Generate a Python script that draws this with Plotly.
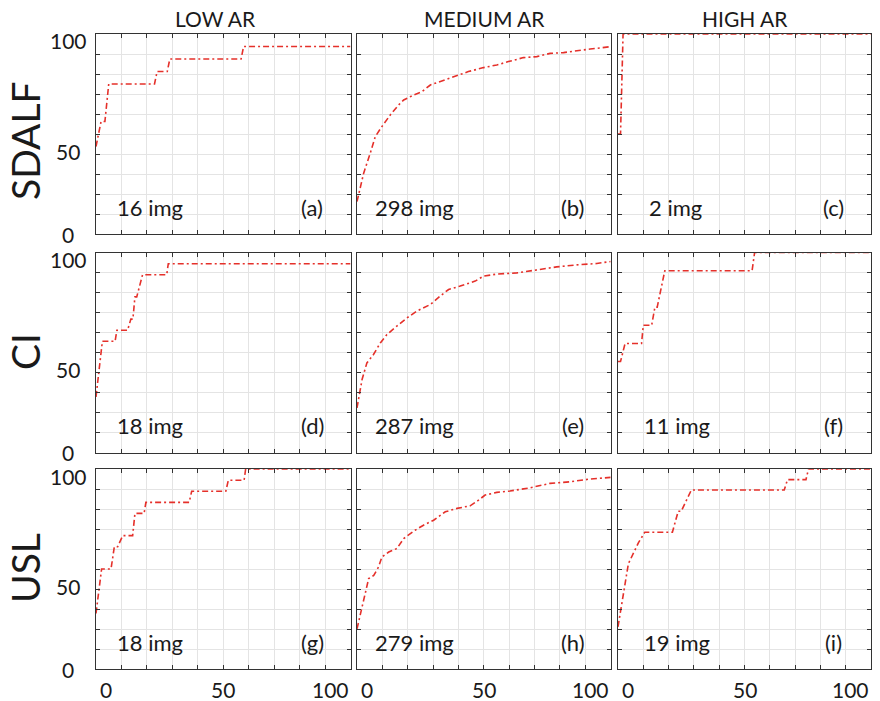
import plotly.graph_objects as go

# ---------------- data ----------------
methods = ["SDALF", "CI", "USL"]
ar_levels = ["LOW AR", "MEDIUM AR", "HIGH AR"]
img_counts = [[16, 298, 2], [18, 287, 11], [18, 279, 19]]
panel_tags = [["(a)", "(b)", "(c)"], ["(d)", "(e)", "(f)"], ["(g)", "(h)", "(i)"]]
ytick_labels = ["0", "50", "100"]
xtick_labels = ["0", "50", "100"]

# SDALF
rank_a = [0, 1, 2, 3.5, 5, 23, 24, 28, 29, 57, 58, 100]
rate_a = [43.75, 50, 56.25, 56.25, 75, 75, 81.25, 81.25, 87.5, 87.5, 93.75, 93.75]
rank_b = [0, 2.6, 5.2, 7.2, 9.8, 13.1, 16.4, 18.4, 22.3, 25.6, 28.9, 32.8, 36.7, 40.7,
          43.9, 49.9, 55.1, 59.7, 65.6, 70.9, 76.1, 81.4, 86.6, 91.9, 95.8, 100]
rate_b = [16.2, 30.3, 40.3, 48.7, 53.7, 59.5, 64.5, 67.0, 69.5, 71.2, 74.5, 76.2, 77.8, 79.5,
          81.2, 83.2, 84.5, 86.2, 88.2, 88.7, 90.3, 90.7, 91.7, 92.5, 93.0, 93.7]
rank_c = [0, 1, 2, 100]
rate_c = [50, 50, 100, 100]

# CI
rank_d = [0, 2.5, 7.5, 8.2, 12.4, 13.7, 14.5, 15.3, 16, 18.3, 27.8, 28.4, 100]
rate_d = [27.8, 55.6, 55.6, 61.1, 61.1, 66.7, 66.7, 77.8, 77.8, 88.9, 88.9, 94.4, 94.4]
rank_e = [0, 2.0, 3.9, 6.5, 9.2, 11.8, 15.7, 19.7, 23.6, 28.9, 32.8, 36.1, 40.7, 46.6,
          49.9, 55.1, 63.0, 69.5, 78.7, 86.6, 94.5, 100]
rate_e = [22.3, 36.5, 44.8, 49.0, 54.8, 59.0, 63.2, 67.3, 70.7, 74.0, 78.2, 81.5, 83.2, 85.7,
          88.2, 89.2, 89.8, 91.0, 92.8, 93.8, 94.5, 95.5]
rank_f = [0, 1, 2.8, 9.3, 10, 13.3, 14.6, 15.5, 18.5, 53, 54, 100]
rate_f = [45.5, 45.5, 54.5, 54.5, 63.6, 63.6, 72.7, 72.7, 90.9, 90.9, 100, 100]

# USL
rank_g = [0, 2.2, 5.9, 7.2, 8.5, 10.5, 14.4, 15.3, 18.9, 19.6, 36.6, 37.6, 51, 52, 58.2, 58.8, 100]
rate_g = [27.8, 50, 50, 61.1, 61.1, 66.7, 66.7, 77.8, 77.8, 83.3, 83.3, 88.9, 88.9, 94.4, 94.4, 100, 100]
rank_h = [0, 2.6, 4.6, 6.6, 8.5, 9.8, 12.5, 15.7, 18.4, 22.9, 26.2, 30.2, 34.8, 39.4, 44.6,
          47.9, 50.5, 55.1, 60.3, 68.2, 76.1, 84.0, 91.9, 100]
rate_h = [20.1, 35.1, 45.2, 46.8, 51.0, 56.0, 58.5, 60.2, 65.2, 69.4, 71.9, 74.4, 78.6, 80.3, 81.6,
          84.4, 87.0, 88.3, 89.0, 90.6, 92.8, 93.6, 95.0, 95.8]
rank_i = [0, 1.4, 2.8, 4.1, 6.1, 8.1, 10.6, 21.5, 23.8, 25, 29, 65.7, 67, 74.3, 75.3, 100]
rate_i = [21.1, 31.6, 42.1, 52.6, 57.9, 63.2, 68.4, 68.4, 78.9, 78.9, 89.5, 89.5, 94.7, 94.7, 100, 100]

curves = [[(rank_a, rate_a), (rank_b, rate_b), (rank_c, rate_c)],
          [(rank_d, rate_d), (rank_e, rate_e), (rank_f, rate_f)],
          [(rank_g, rate_g), (rank_h, rate_h), (rank_i, rate_i)]]

# ---------------- layout geometry ----------------
W, H = 880, 701
col_px = [(96, 350.5), (357, 610.7), (618, 871)]
row_px = [(34, 234), (252.5, 452.5), (469, 669)]
col_dom = [[a / W, b / W] for a, b in col_px]
row_dom = [[1 - b / H, 1 - a / H] for a, b in row_px]

FONT = "Lato, 'Open Sans', sans-serif"
TXT = "#1a1a1a"
RED = "#e5302a"
FRAME = "#333333"
GRID = "#e4e4e4"

fig = go.Figure()
annotations = []
img_x = [[7.3, 6.5, 11.6], [7.3, 6.5, 9.4], [7.3, 6.5, 9.4]]

for r in range(3):
    for c in range(3):
        idx = r * 3 + c + 1
        sfx = "" if idx == 1 else str(idx)
        xs, ys = curves[r][c]
        fig.add_trace(go.Scatter(
            x=xs, y=ys, mode="lines", xaxis="x" + sfx, yaxis="y" + sfx,
            line=dict(color=RED, width=1.6, dash="6px,3px,2px,3px"),
            showlegend=False, hoverinfo="skip"))
        common = dict(range=[0, 100], tick0=0, dtick=10, showgrid=True, gridcolor=GRID,
                      gridwidth=1, zeroline=False, showline=True, linecolor=FRAME,
                      linewidth=1, mirror="allticks", ticks="inside", ticklen=4,
                      tickcolor=FRAME, showticklabels=False, fixedrange=True)
        fig.layout["xaxis" + sfx] = dict(domain=col_dom[c], anchor="y" + sfx, **common)
        fig.layout["yaxis" + sfx] = dict(domain=row_dom[r], anchor="x" + sfx, **common)

        annotations.append(dict(
            text=f"{img_counts[r][c]} img", x=img_x[r][c], y=13.5,
            xref="x" + sfx, yref="y" + sfx, xanchor="left", yanchor="middle",
            showarrow=False, font=dict(family=FONT, size=22, color=TXT)))
        annotations.append(dict(
            text=panel_tags[r][c], x=85, y=13.5,
            xref="x" + sfx, yref="y" + sfx, xanchor="center", yanchor="middle",
            showarrow=False, font=dict(family=FONT, size=22, color=TXT)))

        if c == 0:
            for lab, fy in zip(ytick_labels, [0.0, 0.415, 0.965]):
                annotations.append(dict(
                    text=lab, x=68 / W, y=fy, xref="paper", yref="y" + sfx + " domain",
                    xanchor="center", yanchor="middle", showarrow=False,
                    font=dict(family=FONT, size=21, color=TXT)))
        if r == 2:
            for lab, anc, sh in zip(xtick_labels, ["left", "center", "right"], [2, 0, 0]):
                annotations.append(dict(
                    text=lab, x=float(lab), y=1 - 689.5 / H, xref="x" + sfx, yref="paper",
                    xanchor=anc, yanchor="middle", xshift=sh, showarrow=False,
                    font=dict(family=FONT, size=21, color=TXT)))

title_x = [215, 484.5, 745]
for c in range(3):
    annotations.append(dict(
        text=ar_levels[c], x=title_x[c] / W, y=1 - 19 / H, xref="paper", yref="paper",
        xanchor="center", yanchor="middle", showarrow=False,
        font=dict(family=FONT, size=21, color=TXT)))

row_label_y = [141, 352, 568]
for r in range(3):
    annotations.append(dict(
        text=methods[r], x=25 / W, y=1 - row_label_y[r] / H, xref="paper", yref="paper",
        xanchor="center", yanchor="middle", textangle=-90, showarrow=False,
        font=dict(family=FONT, size=39, color=TXT)))

fig.update_layout(
    width=W, height=H, margin=dict(l=0, r=0, t=0, b=0),
    paper_bgcolor="white", plot_bgcolor="white",
    annotations=annotations, showlegend=False)

fig.write_html("out.html", config={"displayModeBar": False})
